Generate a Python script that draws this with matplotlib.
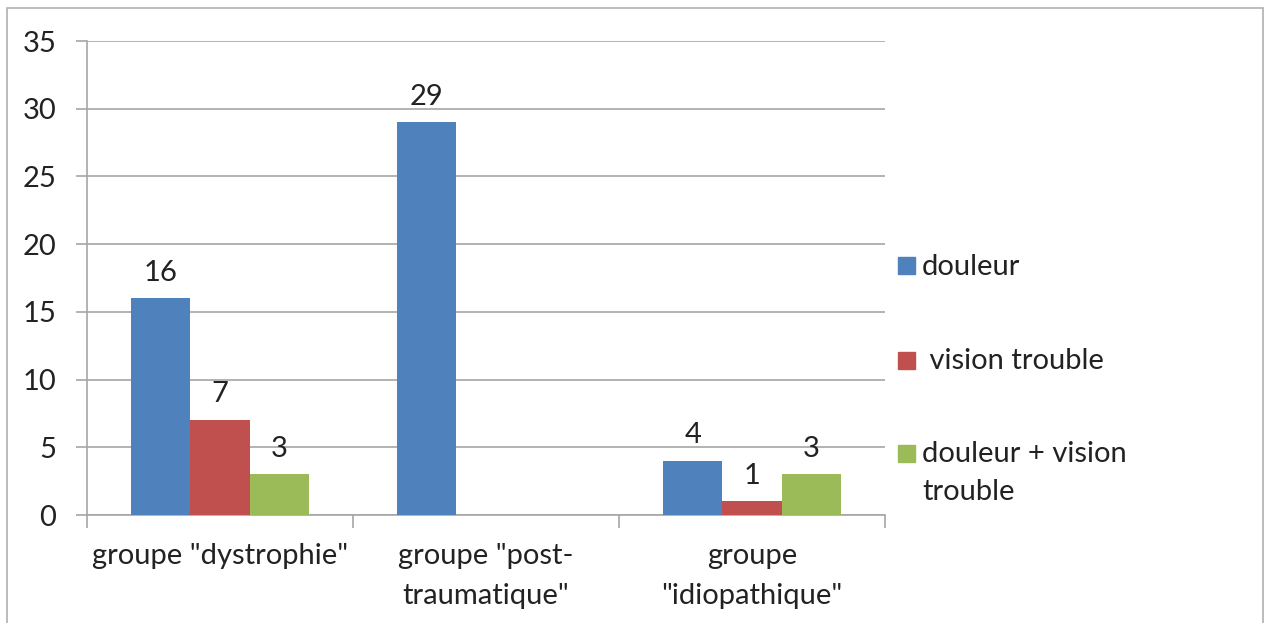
import numpy as np
import matplotlib.pyplot as plt
from matplotlib.patches import Rectangle

categories = ['groupe "dystrophie"', 'groupe "post-\ntraumatique"', 'groupe\n"idiopathique"']
series_names = ['douleur', ' vision trouble', 'douleur + vision\ntrouble']
douleur = [16, 29, 4]
vision = [7, None, 1]
both = [3, None, 3]
colors = ['#4F81BD', '#C0504D', '#9BBB59']

plt.rcParams['font.family'] = ['Lato', 'DejaVu Sans']
FS = 21
GRID = '#a6a6a6'
TXT = '#222222'

fig = plt.figure(figsize=(12.66, 6.23), dpi=100)
ax = fig.add_axes([87 / 1266, 1 - 515 / 623, (885 - 87) / 1266, (515 - 41) / 623])

x = np.arange(len(categories))
width = 0.667 / 3
all_series = [douleur, vision, both]
for i, vals in enumerate(all_series):
    xs = [xi + (i - 1) * width for xi, v in zip(x, vals) if v is not None]
    vs = [v for v in vals if v is not None]
    ax.bar(xs, vs, width, color=colors[i], label=series_names[i], zorder=3)
    for xx, v in zip(xs, vs):
        ax.text(xx, v + 1.9, str(v), ha='center', va='center', fontsize=FS, color=TXT, zorder=4)

ax.set_xlim(-0.5, 2.5)
ax.set_ylim(0, 35)
ax.set_yticks(range(0, 36, 5))
ax.set_xticks([-0.5, 0.5, 1.5, 2.5])
ax.set_xticklabels([])
ax.set_xticks(x, minor=True)
ax.set_xticklabels(categories, minor=True, fontsize=FS, color=TXT, linespacing=1.7)
ax.tick_params(axis='x', which='minor', length=0, pad=20)
ax.tick_params(axis='x', which='major', length=9, color=GRID, width=1.2)
ax.tick_params(axis='y', length=8, color=GRID, width=1.2, labelsize=FS, labelcolor=TXT, pad=14)
ax.grid(axis='y', color=GRID, linewidth=1.2, zorder=0)
for s in ['top', 'right']:
    ax.spines[s].set_visible(False)
for s in ['left', 'bottom']:
    ax.spines[s].set_color(GRID)
    ax.spines[s].set_linewidth(1.2)

# legend drawn by hand, Excel style (square aligned with first text line)
leg_y = [266, 360, 453]
for name, c, yy in zip(series_names, colors, leg_y):
    fy = 1 - yy / 623
    fig.patches.append(Rectangle((898 / 1266, fy - 8.5 / 623), 17 / 1266, 17 / 623,
                                 transform=fig.transFigure, color=c))
    fig.text(922 / 1266, fy + 12 / 623, name, ha='left', va='top', fontsize=FS,
             color=TXT, linespacing=1.55)

fig.patches.append(Rectangle((7 / 1266, -0.05), (1263 - 7) / 1266, 1.05 - 8 / 623,
                             transform=fig.transFigure, fill=False, edgecolor='#b0b0b0', linewidth=1.2))

fig.savefig('out.png', dpi=100)
